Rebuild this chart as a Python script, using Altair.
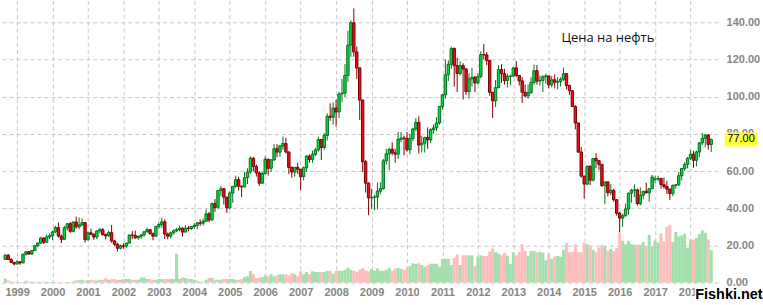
import altair as alt
import pandas as pd

# Monthly candles, Sep 1998 .. Aug 2018 ; month index counted from Jan 1999 (= 0)
first_month = -4

opens = [
    12.5, 14.8, 12.4, 10.9,
    10.0, 11.2, 10.6, 15.3, 16.6, 15.4, 17.3, 19.9, 21.3, 24.0, 21.7, 24.6,
    25.2, 27.3, 29.6, 25.0, 23.3, 29.5, 31.7, 27.6, 32.6, 30.0, 31.0, 32.3,
    23.1, 26.8, 26.0, 24.5, 27.8, 28.5, 25.8, 25.2, 26.9, 22.4, 20.6, 18.5,
    19.8, 19.6, 21.3, 25.6, 25.4, 24.1, 24.9, 25.7, 27.4, 28.5, 26.5, 25.0,
    30.2, 31.3, 32.7, 26.1, 25.0, 26.8, 27.9, 28.6, 29.3, 27.2, 29.3, 29.1,
    30.2, 30.8, 32.2, 32.0, 33.0, 37.0, 33.7, 42.5, 40.5, 49.5, 50.5, 46.0,
    40.2, 48.2, 51.8, 55.4, 51.9, 51.5, 56.5, 59.6, 66.9, 62.5, 59.0, 53.5,
    58.7, 66.4, 61.5, 66.0, 72.0, 70.2, 73.5, 74.8, 70.3, 62.0, 59.5, 62.0,
    61.0, 57.0, 61.8, 68.1, 66.3, 69.0, 71.4, 77.0, 72.7, 79.2, 89.5, 89.0,
    93.9, 91.8, 101.5, 101.9, 111.4, 127.8, 139.8, 124.1, 115.5, 98.2, 65.0, 53.5,
    45.6, 45.9, 46.0, 49.2, 50.6, 65.5, 69.3, 71.7, 69.8, 69.1, 77.0, 77.8,
    77.6, 71.5, 77.6, 82.7, 86.2, 74.0, 75.0, 78.0, 76.8, 82.3, 83.2, 85.9,
    94.8, 101.0, 111.8, 117.4, 125.9, 116.7, 112.5, 116.7, 114.9, 102.8, 109.6, 110.5,
    107.4, 110.9, 122.7, 122.5, 119.5, 102.4, 97.8, 104.9, 114.6, 112.4, 108.7, 110.9,
    111.1, 115.5, 111.4, 108.5, 102.4, 100.4, 102.2, 107.7, 114.0, 108.4, 108.8, 110.8,
    111.2, 106.4, 109.1, 107.8, 108.1, 109.4, 112.4, 106.0, 103.2, 94.7, 85.9, 70.2,
    57.3, 53.0, 62.6, 55.1, 66.8, 65.6, 63.6, 52.2, 54.2, 48.4, 49.6, 44.6,
    37.3, 34.7, 36.0, 39.6, 48.1, 49.7, 49.9, 42.5, 47.0, 49.1, 48.3, 50.5,
    55.5, 55.7, 56.0, 52.8, 51.7, 50.3, 47.9, 52.3, 52.6, 57.5, 61.4, 63.6,
    66.9, 69.1, 65.8, 70.3, 75.2, 77.6, 79.4, 74.3,
]
highs = [
    15.3, 15.3, 13.3, 11.2,
    12.0, 11.5, 15.5, 17.0, 17.0, 17.5, 20.3, 21.6, 24.6, 24.2, 25.9, 26.4,
    28.0, 30.5, 32.3, 25.9, 30.5, 32.1, 32.5, 33.0, 35.5, 35.0, 34.5, 32.5,
    27.5, 29.0, 26.5, 28.2, 29.5, 29.4, 26.5, 28.0, 31.0, 23.0, 21.5, 20.5,
    21.2, 21.4, 26.0, 27.8, 28.0, 25.3, 26.0, 27.5, 29.6, 28.8, 26.9, 30.6,
    32.5, 35.0, 34.0, 27.0, 27.5, 28.5, 29.5, 30.6, 29.8, 30.9, 30.5, 30.5,
    32.0, 32.5, 34.0, 34.5, 39.5, 38.0, 43.0, 45.0, 49.7, 52.0, 51.0, 46.0,
    49.0, 52.0, 57.5, 57.0, 52.2, 59.5, 61.5, 68.0, 67.6, 63.5, 60.0, 59.5,
    68.0, 66.6, 66.5, 74.5, 74.5, 74.0, 78.6, 78.0, 70.5, 62.5, 62.0, 64.5,
    61.0, 62.5, 68.5, 69.0, 71.0, 72.5, 78.5, 77.2, 80.4, 91.0, 96.5, 97.0,
    98.5, 102.5, 109.5, 117.5, 135.5, 141.0, 147.5, 127.0, 115.8, 98.5, 66.0, 54.0,
    50.5, 47.2, 54.0, 54.0, 66.5, 72.0, 72.5, 75.5, 72.0, 81.0, 81.0, 79.0,
    81.0, 80.0, 83.0, 88.5, 89.5, 79.0, 78.5, 83.5, 83.0, 85.0, 89.0, 95.0,
    101.5, 120.0, 119.5, 127.0, 126.5, 121.0, 119.0, 118.0, 115.5, 112.5, 115.5, 111.0,
    112.5, 124.5, 128.4, 124.0, 119.9, 102.5, 109.0, 117.0, 117.5, 115.0, 112.5, 112.0,
    116.0, 119.2, 111.5, 110.5, 106.5, 106.5, 110.5, 117.3, 117.0, 111.5, 111.5, 112.5,
    111.3, 111.0, 112.0, 110.5, 110.5, 115.7, 112.5, 106.5, 103.5, 95.5, 86.0, 73.0,
    57.5, 63.0, 63.0, 67.0, 69.6, 65.8, 63.9, 54.2, 54.3, 53.0, 50.5, 45.0,
    38.0, 37.0, 42.5, 48.5, 50.5, 52.9, 50.5, 51.2, 49.5, 53.7, 50.5, 57.9,
    57.5, 57.5, 56.5, 56.6, 54.7, 50.5, 52.8, 53.0, 59.5, 61.5, 64.7, 67.5,
    71.3, 71.0, 71.0, 75.5, 80.5, 80.0, 79.8, 77.5,
]
lows = [
    12.2, 12.2, 10.6, 9.4,
    9.9, 9.6, 10.5, 14.5, 15.0, 14.9, 17.0, 19.0, 20.8, 20.8, 21.5, 23.5,
    23.0, 26.6, 24.3, 21.3, 23.1, 28.0, 26.6, 27.0, 29.0, 28.7, 30.5, 21.6,
    22.6, 25.5, 23.0, 23.4, 26.5, 25.3, 23.2, 24.5, 21.5, 19.6, 16.8, 17.8,
    18.2, 18.7, 21.0, 23.4, 23.6, 23.0, 23.5, 24.7, 27.0, 25.7, 22.8, 24.7,
    29.0, 29.4, 23.5, 23.3, 23.8, 25.8, 27.2, 27.6, 24.8, 27.0, 27.6, 28.3,
    28.8, 28.8, 30.5, 30.7, 33.0, 32.5, 33.5, 38.0, 39.5, 46.5, 42.0, 37.5,
    39.5, 43.0, 51.0, 49.5, 46.0, 51.3, 53.0, 58.5, 59.8, 57.0, 52.0, 53.0,
    58.0, 57.7, 59.5, 65.5, 67.5, 67.6, 71.5, 69.5, 58.5, 56.5, 57.0, 58.5,
    49.8, 55.0, 59.5, 64.5, 64.5, 68.0, 70.5, 66.0, 71.5, 76.5, 87.0, 85.0,
    84.0, 88.5, 97.0, 99.8, 108.0, 121.5, 121.5, 109.5, 87.5, 59.5, 48.5, 36.2,
    39.5, 39.0, 39.5, 47.5, 50.0, 63.5, 60.5, 68.5, 64.5, 66.5, 75.5, 68.5,
    70.5, 69.0, 76.0, 81.5, 69.5, 70.0, 70.0, 72.0, 75.0, 80.0, 81.5, 85.0,
    93.0, 99.0, 108.5, 115.0, 105.5, 102.5, 111.5, 98.5, 101.0, 99.0, 105.5, 102.5,
    106.5, 110.0, 120.0, 117.0, 100.5, 88.5, 94.5, 104.5, 107.5, 106.5, 105.0, 106.0,
    110.5, 110.5, 106.0, 96.7, 99.5, 99.0, 101.5, 106.5, 106.5, 106.0, 102.5, 107.0,
    104.5, 105.0, 104.5, 104.0, 105.5, 108.5, 104.0, 101.0, 94.5, 82.5, 69.8, 56.5,
    45.2, 52.5, 52.5, 54.5, 61.5, 60.5, 51.5, 42.2, 46.5, 47.0, 43.5, 36.0,
    27.1, 30.0, 35.5, 36.5, 43.0, 46.0, 41.5, 41.5, 45.0, 48.0, 43.5, 50.5,
    53.5, 54.5, 50.5, 50.5, 47.6, 44.4, 46.5, 50.5, 52.0, 55.0, 60.0, 61.5,
    66.0, 61.8, 62.5, 67.5, 74.0, 72.8, 71.5, 70.3,
]
closes = [
    14.8, 12.4, 10.9, 10.0,
    11.2, 10.6, 15.3, 16.6, 15.4, 17.3, 19.9, 21.3, 24.0, 21.7, 24.6, 25.2,
    27.3, 29.6, 25.0, 23.3, 29.5, 31.7, 27.6, 32.6, 30.0, 31.0, 32.3, 23.1,
    26.8, 26.0, 24.5, 27.8, 28.5, 25.8, 25.2, 26.9, 22.4, 20.6, 18.5, 19.8,
    19.6, 21.3, 25.6, 25.4, 24.1, 24.9, 25.7, 27.4, 28.5, 26.5, 25.0, 30.2,
    31.3, 32.7, 26.1, 25.0, 26.8, 27.9, 28.6, 29.3, 27.2, 29.3, 29.1, 30.2,
    30.8, 32.2, 32.0, 33.0, 37.0, 33.7, 42.5, 40.5, 49.5, 50.5, 46.0, 40.2,
    48.2, 51.8, 55.4, 51.9, 51.5, 56.5, 59.6, 66.9, 62.5, 59.0, 53.5, 58.7,
    66.4, 61.5, 66.0, 72.0, 70.2, 73.5, 74.8, 70.3, 62.0, 59.5, 62.0, 61.0,
    57.0, 61.8, 68.1, 66.3, 69.0, 71.4, 77.0, 72.7, 79.2, 89.5, 89.0, 93.9,
    91.8, 101.5, 101.9, 111.4, 127.8, 139.8, 124.1, 115.5, 98.2, 65.0, 53.5, 45.6,
    45.9, 46.0, 49.2, 50.6, 65.5, 69.3, 71.7, 69.8, 69.1, 77.0, 77.8, 77.6,
    71.5, 77.6, 82.7, 86.2, 74.0, 75.0, 78.0, 76.8, 82.3, 83.2, 85.9, 94.8,
    101.0, 111.8, 117.4, 125.9, 116.7, 112.5, 116.7, 114.9, 102.8, 109.6, 110.5, 107.4,
    110.9, 122.7, 122.5, 119.5, 102.4, 97.8, 104.9, 114.6, 112.4, 108.7, 110.9, 111.1,
    115.5, 111.4, 108.5, 102.4, 100.4, 102.2, 107.7, 114.0, 108.4, 108.8, 110.8, 111.2,
    106.4, 109.1, 107.8, 108.1, 109.4, 112.4, 106.0, 103.2, 94.7, 85.9, 70.2, 57.3,
    53.0, 62.6, 55.1, 66.8, 65.6, 63.6, 52.2, 54.2, 48.4, 49.6, 44.6, 37.3,
    34.7, 36.0, 39.6, 48.1, 49.7, 49.9, 42.5, 47.0, 49.1, 48.3, 50.5, 56.8,
    55.7, 56.0, 52.8, 51.7, 50.3, 47.9, 52.3, 52.6, 57.5, 61.4, 63.6, 66.9,
    69.1, 65.8, 70.3, 75.2, 77.6, 79.4, 74.3, 77.0,
]
# volume, expressed in the units of the shared right-hand axis
volumes = [
    2.3, 1.2, 0.5, 0.5,
    0.4, 0.4, 0.4, 1.0, 0.5, 0.5, 0.5, 0.5, 0.3, 0.5, 0.5, 0.3,
    0.2, 0.2, 0.2, 0.2, 0.2, 0.3, 0.3, 0.6, 1.3, 1.3, 1.5, 1.0,
    1.3, 1.5, 1.2, 1.2, 1.5, 1.5, 2.4, 1.5, 1.8, 2.0, 1.5, 1.5,
    2.0, 2.0, 2.0, 1.5, 1.5, 1.5, 2.8, 2.8, 2.0, 2.0, 1.5, 1.5,
    2.0, 2.0, 2.0, 2.0, 2.0, 2.0, 15.5, 2.0, 2.8, 2.5, 2.0, 2.0,
    1.5, 1.0, 0.5, 0.5, 1.5, 2.5, 2.5, 1.5, 1.5, 1.5, 2.0, 2.0,
    2.0, 2.0, 1.5, 1.5, 2.0, 3.0, 3.5, 6.3, 4.5, 2.5, 2.5, 3.0,
    4.0, 3.5, 4.5, 3.5, 4.0, 4.5, 4.5, 4.5, 3.9, 5.0, 4.5, 3.5,
    6.2, 4.5, 5.7, 4.5, 6.2, 5.7, 5.7, 5.7, 5.7, 6.4, 6.4, 4.8,
    6.4, 6.4, 6.4, 7.0, 8.0, 7.0, 6.4, 5.9, 7.0, 7.7, 6.6, 6.1,
    7.4, 6.4, 7.6, 6.4, 6.4, 7.0, 8.0, 6.4, 7.5, 8.0, 7.5, 6.8,
    8.0, 9.0, 10.5, 10.0, 10.5, 9.5, 8.5, 9.5, 10.2, 10.2, 10.2, 8.7,
    12.8, 12.8, 12.8, 9.5, 13.2, 15.2, 9.5, 14.8, 14.8, 14.8, 14.8, 9.0,
    14.0, 14.8, 14.3, 14.3, 16.8, 18.4, 16.4, 15.7, 14.8, 16.0, 14.5, 10.0,
    16.4, 14.8, 16.4, 20.7, 17.0, 14.3, 17.0, 17.0, 16.4, 16.6, 16.1, 12.0,
    15.7, 12.7, 14.1, 14.3, 13.9, 17.7, 21.4, 16.4, 16.8, 20.7, 16.4, 16.4,
    21.4, 20.7, 20.0, 17.7, 16.4, 18.9, 20.2, 19.6, 17.0, 18.2, 17.0, 18.6,
    26.6, 22.5, 20.7, 22.5, 20.7, 20.4, 20.4, 20.4, 21.8, 19.6, 25.7, 19.6,
    22.7, 21.6, 26.6, 22.3, 30.0, 31.1, 21.8, 27.3, 24.8, 25.4, 26.3, 18.6,
    23.2, 23.2, 24.1, 26.1, 28.0, 26.8, 23.2, 17.5,
]
year_labels_first = 1999
year_labels_last = 2018
y_ticks = [0, 20, 40, 60, 80, 100, 120, 140]
last_price = 77.0
title_text = "Цена на нефть"
watermark_text = "Fishki.net"

df = pd.DataFrame({
    "m": list(range(first_month, first_month + len(opens))),
    "open": opens, "high": highs, "low": lows, "close": closes, "vol": volumes,
})
df["zero"] = 0.0

xscale = alt.Scale(domain=[-4.1, 235.65], nice=False, zero=False)
yscale = alt.Scale(domain=[0, 151.8], nice=False, zero=False)

label_font = "Liberation Sans"
x_axis = alt.Axis(
    values=[12 * k for k in range(year_labels_last - year_labels_first + 1)],
    labelExpr=f"{year_labels_first} + datum.value / 12",
    grid=True, gridColor="#c8c8c8", gridDash=[4, 3], gridWidth=1,
    domain=False, ticks=False, labelFlush=False, labelOverlap=False,
    labelColor="#858585", labelFont=label_font, labelFontSize=11,
    labelFontWeight="bold", labelPadding=4, labelSeparation=0, title=None,
)
y_axis = alt.Axis(
    orient="right", values=y_ticks, format=".2f",
    grid=True, gridColor="#c8c8c8", gridDash=[4, 3], gridWidth=1,
    domain=False, ticks=False, labelFlush=False, labelOverlap=False,
    labelColor="#858585", labelFont=label_font, labelFontSize=11,
    labelFontWeight="bold", labelPadding=8, title=None,
)

X = alt.X("m:Q", scale=xscale, axis=x_axis)


def Y(field):
    return alt.Y(f"{field}:Q", scale=yscale, axis=y_axis)


up = alt.datum.close >= alt.datum.open
base = alt.Chart(df)

volume = base.mark_bar(size=3.05, clip=True).encode(
    x=X, y=Y("zero"), y2="vol:Q",
    color=alt.condition(up, alt.value("#a3dfab"), alt.value("#ffbcbc")),
)

wicks = base.mark_rule(strokeWidth=1, clip=True).encode(
    x=X, y=Y("low"), y2="high:Q",
    color=alt.condition(up, alt.value("#0a6e1e"), alt.value("#7d0000")),
)

bodies = base.mark_bar(size=2.4, strokeWidth=1, clip=True).encode(
    x=X, y=Y("open"), y2="close:Q",
    fill=alt.condition(up, alt.value("#00dc46"), alt.value("#e8101c")),
    stroke=alt.condition(up, alt.value("#0a6e1e"), alt.value("#7d0000")),
)

price_df = pd.DataFrame({"price": [last_price], "label": [f"{last_price:.2f}"]})
price_box = alt.Chart(price_df).mark_point(
    shape="M-2.35,-1L2.35,-1L2.35,1L-2.35,1Z", size=196, filled=True,
    fill="#ffff3c", opacity=1, strokeWidth=0,
).encode(x=alt.value(743), y=Y("price"))
price_text = alt.Chart(price_df).mark_text(
    font=label_font, fontSize=11, color="#000000", align="center", baseline="middle",
).encode(x=alt.value(743), y=Y("price"), text="label:N")

title = alt.Chart(pd.DataFrame({"t": [title_text]})).mark_text(
    font="Open Sans", fontSize=13, color="#111111", align="left", baseline="alphabetic",
).encode(x=alt.value(563), y=alt.value(42), text="t:N")

wm_df = pd.DataFrame({"t": [watermark_text]})
wm_halo = alt.Chart(wm_df).mark_text(
    font="Liberation Sans", fontSize=14.5, fontWeight="bold", align="left",
    baseline="alphabetic", color="#ffffff", stroke="#ffffff", strokeWidth=3,
).encode(x=alt.value(697), y=alt.value(299), text="t:N")
wm = alt.Chart(wm_df).mark_text(
    font="Liberation Sans", fontSize=14.5, fontWeight="bold", align="left",
    baseline="alphabetic", color="#000000",
).encode(x=alt.value(697), y=alt.value(299), text="t:N")

chart = alt.layer(
    volume, wicks, bodies, price_box, price_text, title, wm_halo, wm
).properties(
    width=720, height=283, padding=0, background="#ffffff",
).configure_view(strokeWidth=0)

chart.save("out.html", embed_options={"renderer": "svg", "actions": False})
